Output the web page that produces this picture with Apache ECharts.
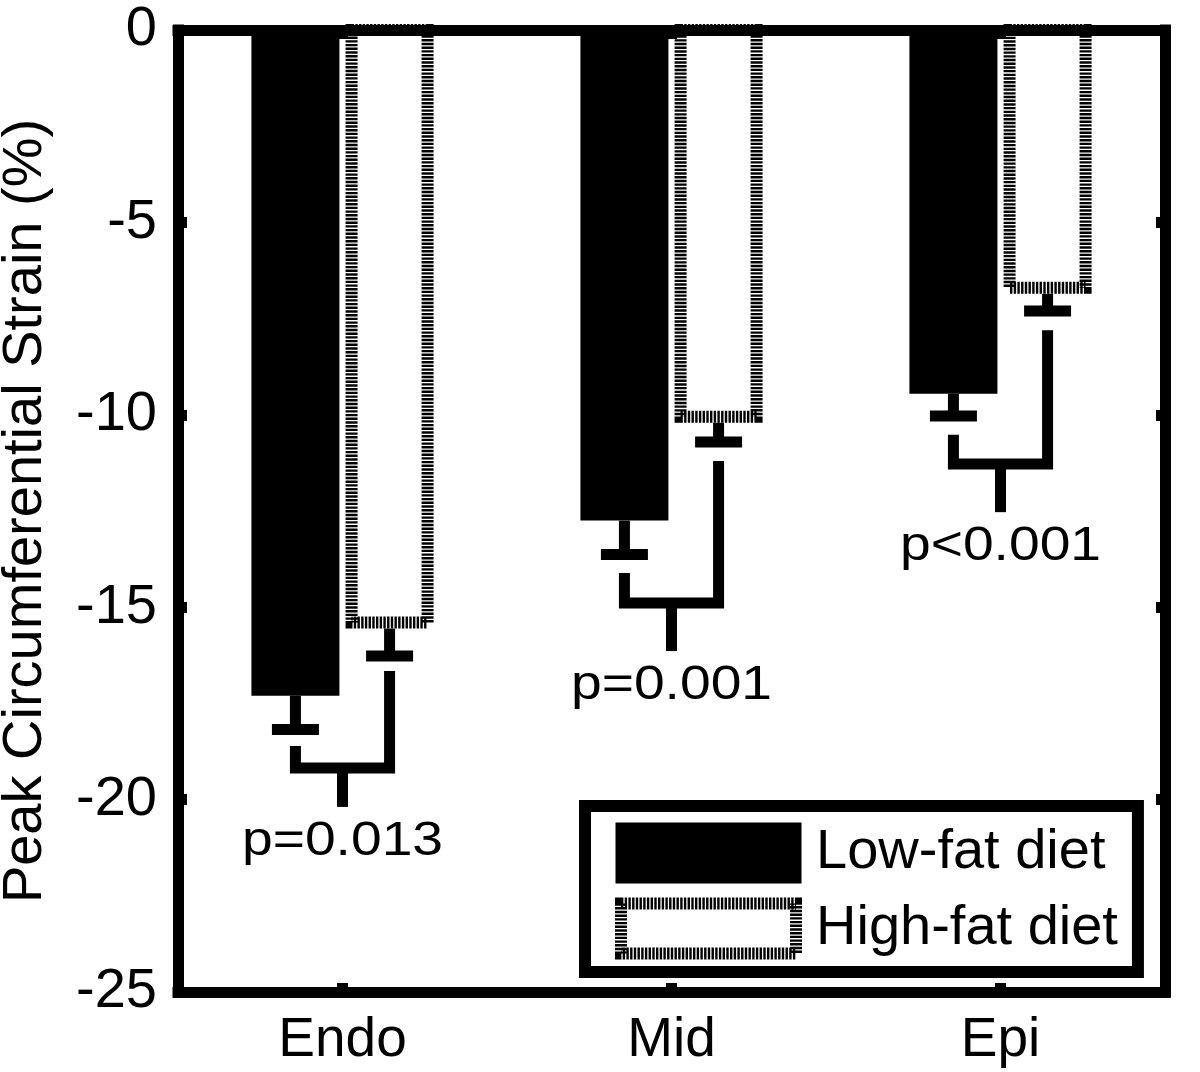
<!DOCTYPE html>
<html><head><meta charset="utf-8">
<script src="https://cdn.jsdelivr.net/npm/echarts@6/dist/echarts.min.js"></script>
<style>html,body{margin:0;padding:0;background:#fff}#c{width:1200px;height:1072px}</style>
</head><body><div id="c"></div>
<script>
// ---- data ----
const categories = ['Endo', 'Mid', 'Epi'];
const lowFat = [-17.3, -12.75, -9.45];
const lowFatErr = [0.88, 0.88, 0.58];
const highFat = [-15.4, -10.05, -6.7];
const highFatErr = [0.87, 0.66, 0.6];
const bracketLeftStart = [-18.61, -14.11, -10.52];
const bracketRightStart = [-16.66, -11.2, -7.8];
const bracketLevel = [-19.18, -14.89, -11.28];
const bracketTickEnd = [-20.19, -16.14, -12.53];
const pLabels = ['p=0.013', 'p=0.001', 'p<0.001'];
const yMin = -25, yMax = 0, yStep = 5;

// ---- style constants ----
const FONT = "'Liberation Sans', Arial, Helvetica, sans-serif";
const BAR_W = 88, BAR_GAP = 0.07;
const LW = 11;

const chart = echarts.init(document.getElementById('c'), null, {renderer: 'canvas'});

function renderDecor(params, api) {
  const i = api.value(0);
  const c0 = api.coord([i, 0]);
  const cx = c0[0];
  const off = BAR_W * (1 + BAR_GAP) / 2;
  const lx = cx - off, hx = cx + off;
  const Y = v => api.coord([i, v])[1];
  const line = (pts) => ({type: 'polyline', shape: {points: pts},
    style: {stroke: '#000', lineWidth: LW, fill: null, lineJoin: 'miter', lineCap: 'butt'}});
  const capHalf = 23.5;
  const lowCap = lowFat[i] - lowFatErr[i];
  const highCap = highFat[i] - highFatErr[i];
  const inner = BAR_W / 2 - 6;
  return {
    type: 'group',
    children: [
      // hatched outline of the high-fat bar
      {type: 'rect', shape: {x: hx - inner, y: Y(0), width: inner * 2, height: Y(highFat[i]) - Y(0)},
       style: {fill: '#fff', stroke: '#000', lineWidth: 12, lineDash: [2.4, 1.3]}},
      // error bars
      line([[lx, Y(lowFat[i])], [lx, Y(lowCap)]]),
      line([[lx - capHalf, Y(lowCap)], [lx + capHalf, Y(lowCap)]]),
      line([[hx, Y(highFat[i]) + 6], [hx, Y(highCap)]]),
      line([[hx - capHalf, Y(highCap)], [hx + capHalf, Y(highCap)]]),
      // significance bracket
      line([[lx, Y(bracketLeftStart[i])], [lx, Y(bracketLevel[i])], [hx, Y(bracketLevel[i])], [hx, Y(bracketRightStart[i])]]),
      line([[cx, Y(bracketLevel[i])], [cx, Y(bracketTickEnd[i])]]),
      {type: 'text', x: cx, y: Y(bracketTickEnd[i]) + 35, scaleX: 1.15,
       style: {text: pLabels[i], fontSize: 48, fontFamily: FONT, fill: '#000', align: 'center', verticalAlign: 'middle'}}
    ]
  };
}

const axisLineStyle = {show: true, onZero: false, lineStyle: {color: '#000', width: LW, cap: 'square'}};
const tickStyle = {show: true, inside: true, length: 9, lineStyle: {color: '#000', width: LW}};

chart.setOption({
  animation: false,
  backgroundColor: '#fff',
  grid: {left: 178, top: 30, width: 987, height: 962, containLabel: false, outerBoundsMode: 'none'},
  xAxis: [
    {type: 'category', data: categories, position: 'bottom', z: 10,
     axisLine: axisLineStyle, axisTick: Object.assign({alignWithLabel: true, interval: 0}, tickStyle),
     axisLabel: {fontSize: 55, fontFamily: FONT, color: '#000', margin: 21},
     splitLine: {show: false}},
    {type: 'category', data: categories, position: 'top', z: 10,
     axisLine: axisLineStyle, axisTick: Object.assign({alignWithLabel: true, interval: 0}, tickStyle),
     axisLabel: {show: false}, splitLine: {show: false}}
  ],
  yAxis: [
    {type: 'value', min: yMin, max: yMax, interval: yStep, position: 'left', z: 10,
     name: 'Peak Circumferential Strain (%)', nameLocation: 'middle', nameGap: 124,
     nameTextStyle: {fontSize: 56, fontFamily: FONT, color: '#000'},
     axisLine: axisLineStyle, axisTick: tickStyle,
     axisLabel: {fontSize: 56, fontFamily: FONT, color: '#000', margin: 21},
     splitLine: {show: false}},
    {type: 'value', min: yMin, max: yMax, interval: yStep, position: 'right', z: 10,
     axisLine: axisLineStyle, axisTick: tickStyle,
     axisLabel: {show: false}, splitLine: {show: false}}
  ],
  legend: {
    orient: 'vertical', left: 585, top: 806,
    padding: [16.5, 20, 12.5, 30],
    borderColor: '#000', borderWidth: 12, backgroundColor: '#fff',
    itemWidth: 175, itemHeight: 50, itemGap: 14,
    icon: 'rect', selectedMode: false, z: 20,
    textStyle: {fontSize: 56, fontFamily: FONT, color: '#000', padding: [0, 0, 0, 15]},
    data: [
      {name: 'Low-fat diet', itemStyle: {color: '#000', borderColor: '#000', borderWidth: 11}},
      {name: 'High-fat diet', itemStyle: {color: '#fff', borderColor: '#000', borderWidth: 12, borderType: [2.4, 1.3]}}
    ]
  },
  series: [
    {name: 'Low-fat diet', type: 'bar', data: lowFat, barWidth: BAR_W, barGap: (BAR_GAP * 100) + '%',
     itemStyle: {color: '#000'}, silent: true},
    {name: 'High-fat diet', type: 'bar', data: highFat, barWidth: BAR_W,
     itemStyle: {color: 'rgba(0,0,0,0)'}, silent: true},
    {name: 'decor', type: 'custom', renderItem: renderDecor, z: 3, silent: true, clip: false,
     data: categories.map((c, i) => [i, 0]), encode: {x: 0, y: 1}}
  ]
});
</script>
</body></html>
